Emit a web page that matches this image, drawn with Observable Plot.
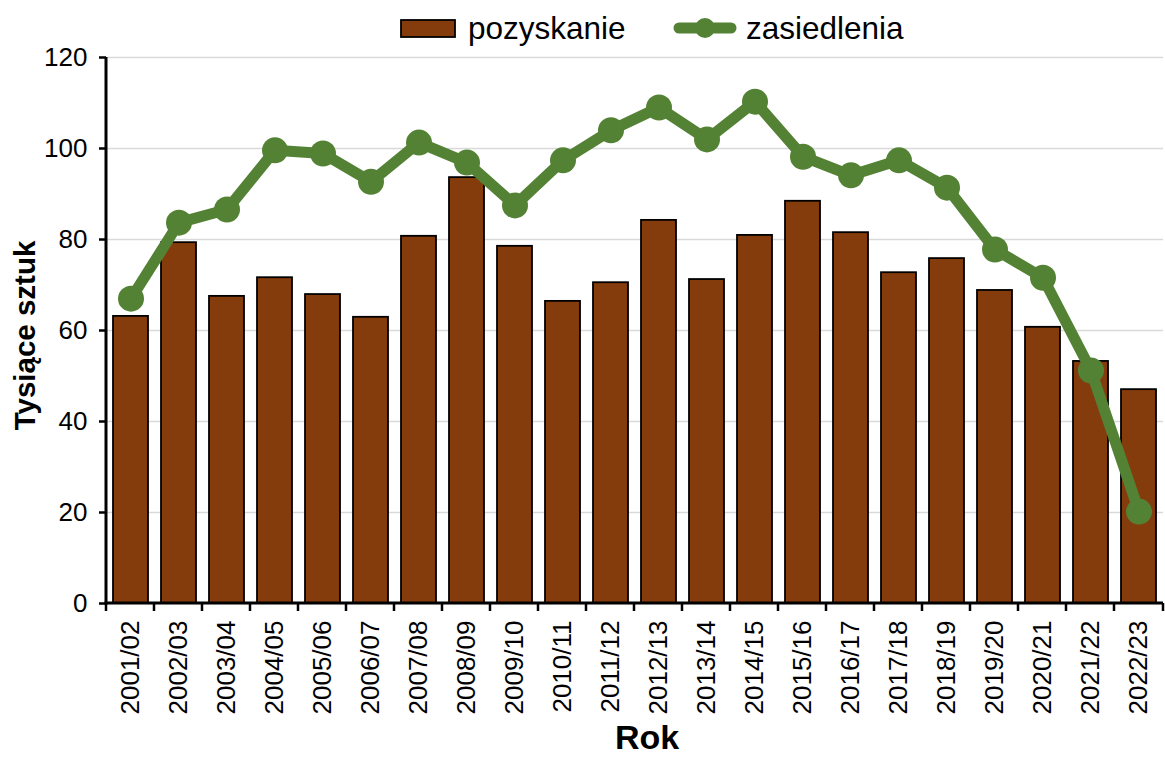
<!DOCTYPE html>
<html>
<head>
<meta charset="utf-8">
<script src="https://cdn.jsdelivr.net/npm/d3@7"></script>
<script src="https://cdn.jsdelivr.net/npm/@observablehq/plot@0.6"></script>
<style>
  html, body { margin: 0; padding: 0; background: #fff; }
  #wrap { position: relative; width: 1165px; height: 757px; font-family: "Liberation Sans", Arial, sans-serif; }
  #legend { position: absolute; left: 0; top: 0; width: 1165px; height: 57px; }
  #legend .item { position: absolute; top: 8px; display: flex; align-items: center; font-size: 31.5px; color: #000; height: 40px; }
  #legend svg { display: block; }
  #chart { position: absolute; left: 0; top: 0; }
</style>
</head>
<body>
<div id="wrap">
  <div id="chart"></div>
  <div id="legend"></div>
</div>
<script>
const seasons = ["2001/02","2002/03","2003/04","2004/05","2005/06","2006/07","2007/08","2008/09","2009/10","2010/11","2011/12","2012/13","2013/14","2014/15","2015/16","2016/17","2017/18","2018/19","2019/20","2020/21","2021/22","2022/23"];
const pozyskanie = [63.1, 79.3, 67.5, 71.6, 67.9, 62.9, 80.7, 93.6, 78.5, 66.4, 70.5, 84.2, 71.2, 80.9, 88.4, 81.5, 72.7, 75.8, 68.8, 60.7, 53.2, 47.0];
const zasiedlenia = [67.0, 83.7, 86.6, 99.6, 98.9, 92.7, 101.3, 96.9, 87.5, 97.4, 104.0, 109.0, 102.0, 110.3, 98.2, 94.1, 97.4, 91.4, 77.8, 71.6, 51.2, 20.2];
const yTicks = [0, 20, 40, 60, 80, 100, 120];
const seriesNames = ["pozyskanie", "zasiedlenia"];
const yTitle = "Tysiące sztuk";
const xTitle = "Rok";

const barColor = "#843C0C";
const lineColor = "#548235";

const data = seasons.map((s, i) => ({season: s, poz: pozyskanie[i], zas: zasiedlenia[i]}));

// axis lines and category separator ticks (Excel style), derived from scales
function axisFrame(index, scales, values, dims) {
  const g = d3.create("svg:g");
  const left = dims.marginLeft, right = dims.width - dims.marginRight;
  const bottom = dims.height - dims.marginBottom, top = dims.marginTop;
  const off = scales.x(seasons[0]) - left;
  const bounds = seasons.map(s => scales.x(s) - off).concat([right]);
  for (const b of bounds) {
    g.append("line").attr("x1", b).attr("x2", b).attr("y1", bottom).attr("y2", bottom + 8)
      .attr("stroke", "#000").attr("stroke-width", 2.5);
  }
  g.append("line").attr("x1", left).attr("x2", left).attr("y1", top).attr("y2", bottom + 1.5)
    .attr("stroke", "#000").attr("stroke-width", 3);
  g.append("line").attr("x1", left - 1.5).attr("x2", right).attr("y1", bottom).attr("y2", bottom)
    .attr("stroke", "#000").attr("stroke-width", 3);
  return g.node();
}

const chart = Plot.plot({
  width: 1165,
  height: 757,
  marginLeft: 106,
  marginRight: 2,
  marginTop: 57,
  marginBottom: 154,
  style: {fontFamily: "'Liberation Sans', Arial, sans-serif", fontSize: "26px", color: "#000", background: "#fff"},
  x: {domain: seasons, paddingInner: 0.27, paddingOuter: 0.135, label: null},
  y: {domain: [0, 120], label: null},
  marks: [
    Plot.gridY(yTicks, {stroke: "#d9d9d9", strokeOpacity: 1, strokeWidth: 1.5}),
    Plot.barY(data, {x: "season", y: "poz", fill: barColor, stroke: "#000", strokeWidth: 1.8}),
    Plot.axisY({ticks: yTicks, tickSize: 7, tickPadding: 12, fontSize: 26, stroke: "#000", strokeWidth: 2.5, label: null}),
    Plot.axisX({tickSize: 0, tickPadding: 17, tickRotate: -90, fontSize: 26, label: null}),
    axisFrame,
    Plot.line(data, {x: "season", y: "zas", stroke: lineColor, strokeWidth: 11, strokeLinejoin: "round"}),
    Plot.dot(data, {x: "season", y: "zas", r: 13, fill: lineColor, stroke: "none"}),
    Plot.text([yTitle], {frameAnchor: "left", rotate: -90, textAnchor: "middle", lineAnchor: "middle", dx: -81, dy: 5, fontWeight: "bold", fontSize: 29.5}),
    Plot.text([xTitle], {frameAnchor: "bottom", lineAnchor: "middle", dx: 12, dy: 135, fontWeight: "bold", fontSize: 34})
  ]
});
document.getElementById("chart").appendChild(chart);

// legend
const legend = document.getElementById("legend");
const item1 = document.createElement("div");
item1.className = "item";
item1.style.left = "400px";
item1.innerHTML = `<svg width="56" height="19"><rect x="1" y="1" width="54" height="17" fill="${barColor}" stroke="#000" stroke-width="1.8"/></svg><span style="margin-left:12px">${seriesNames[0]}</span>`;
const item2 = document.createElement("div");
item2.className = "item";
item2.style.left = "673px";
item2.innerHTML = `<svg width="64" height="24"><line x1="6" x2="58" y1="12" y2="12" stroke="${lineColor}" stroke-width="11" stroke-linecap="round"/><circle cx="32" cy="12" r="10" fill="${lineColor}"/></svg><span style="margin-left:9px">${seriesNames[1]}</span>`;
legend.appendChild(item1);
legend.appendChild(item2);
</script>
</body>
</html>
